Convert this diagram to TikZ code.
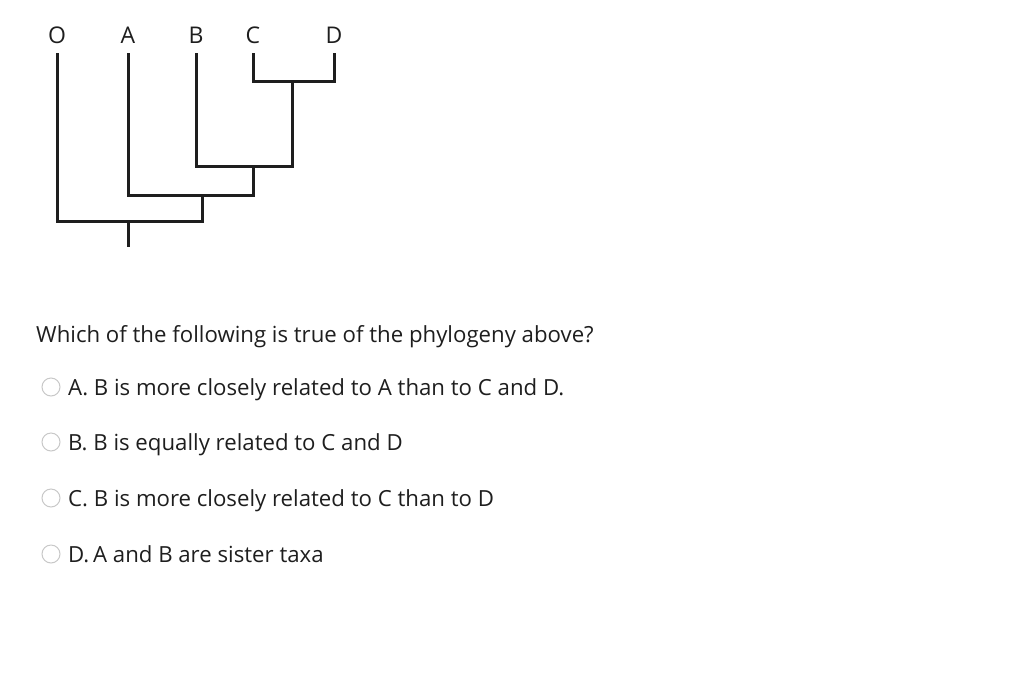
\documentclass[tikz,border=0pt]{standalone}
\usepackage{fontspec}
\setmainfont{Open Sans}
\usepackage{tikz}
\usetikzlibrary{positioning,calc}
\definecolor{ink}{HTML}{1E1E1E}
\definecolor{radio}{HTML}{C8C8C8}

\begin{document}
\begin{tikzpicture}[x=1pt,y=-1pt,
  taxon/.style={anchor=base,inner sep=0pt,text depth=0pt,font=\fontsize{23}{26}\selectfont,text=ink},
  branch/.style={line width=3pt,ink,line join=miter},
  txt/.style={anchor=base west,inner sep=0pt,font=\fontsize{22.2}{26}\selectfont,text=ink},
  opt/.style={circle,draw=radio,fill=white,line width=1pt,minimum size=18pt,inner sep=0pt}
]
\useasboundingbox (0,0) rectangle (1024,672);

% taxa
\node[taxon] (O) at (57,43) {O};
\node[taxon] (A) at (128,43) {A};
\node[taxon] (B) at (196,43) {B};
\node[taxon] (C) at (253,43) {C};
\node[taxon] (D) at (334,43) {D};
\foreach \t in {O,A,B,C,D}
  \coordinate (t\t) at ([yshift=-10pt]\t.south);

% joins
\coordinate (cd) at (292,81);
\coordinate (bcd) at (253,166);
\coordinate (abcd) at (202,195);
\coordinate (root) at (128,221);
\coordinate (stem) at (128,247);

\draw[branch] (tC) |- (cd) -| (tD);
\draw[branch] (tB) |- (bcd) -| (cd);
\draw[branch] (tA) |- (abcd) -| (bcd);
\draw[branch] (tO) |- (root) -| (abcd);
\draw[branch] (root) -- (stem);

% question
\node[txt] (q) at (36,342) {Which of the following is true of the phylogeny above?};

\node[opt] (r1) at (51,387) {};
\node[opt] (r2) at (51,442) {};
\node[opt] (r3) at (51,498) {};
\node[opt] (r4) at (51,554) {};

\node[txt] (a1) at (68,395) {A. B is more closely related to A than to C and D.};
\node[txt] (a2) at (68,450) {B. B is equally related to C and D};
\node[txt] (a3) at (68,506) {C. B is more closely related to C than to D};
\node[txt] (a4) at (68,562) {D.\,A and B are sister taxa};
\end{tikzpicture}
\end{document}
